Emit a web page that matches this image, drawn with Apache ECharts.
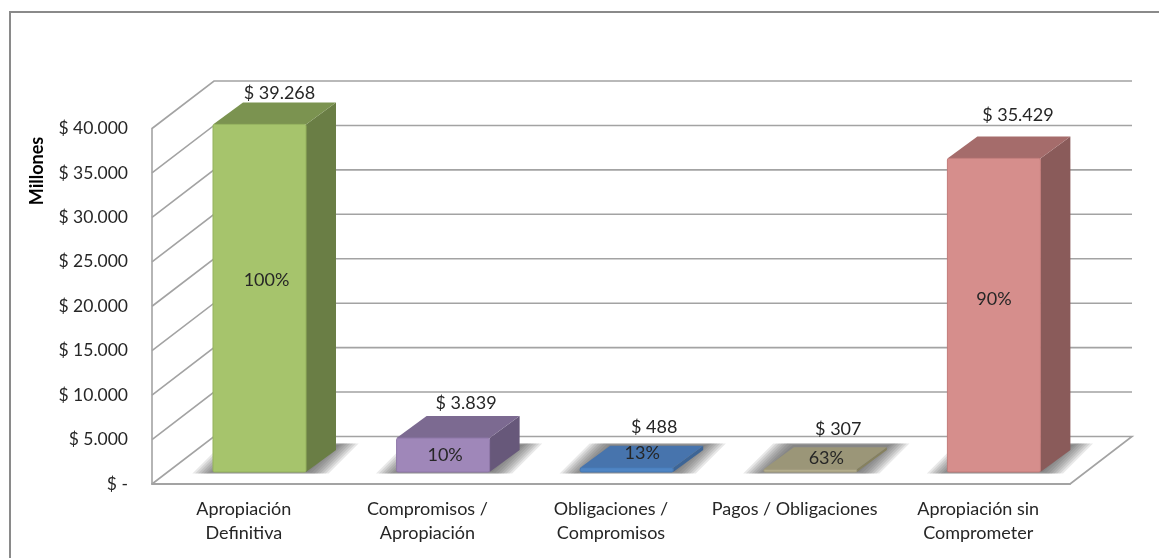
<!DOCTYPE html>
<html>
<head>
<meta charset="utf-8">
<style>html,body{margin:0;padding:0;background:#fff}#c{width:1159px;height:558px}</style>
<script src="https://cdn.jsdelivr.net/npm/echarts@6/dist/echarts.min.js"></script>
</head>
<body>
<div id="c"></div>
<script>
const categories = ['Apropiación\nDefinitiva', 'Compromisos /\nApropiación', 'Obligaciones /\nCompromisos', 'Pagos / Obligaciones', 'Apropiación sin\nComprometer'];
const values = [39268, 3839, 488, 307, 35429];
const percents = ['100%', '10%', '13%', '63%', '90%'];
const yTicks = [0, 5000, 10000, 15000, 20000, 25000, 30000, 35000, 40000];

const frontColors = ['#a6c46c', '#9f87b9', '#4f85c4', '#b3ad8c', '#d68e8c'];
const edgeColors  = ['#94b25c', '#8e77a8', '#4477b3', '#a19b7c', '#c27b79'];
const topColors   = ['#7b9350', '#7c6a91', '#4774ad', '#9b9678', '#a56c6b'];
const sideColors  = ['#6a7e45', '#67587a', '#3d6596', '#86815f', '#8a5b5a'];

// hand-placed label nudges, as in the source chart
const valueLabelNudge = [[20, -9.5], [23, -13], [27.5, -18], [28, -18], [24, -21]];
const pctLabelNudge = [[7, -18], [2, 0], [15.5, -17], [16, -12.5], [0, -16]];

const WALL = [62, -47.5], BAR = [30, -22], BAR_SHIFT = [15.7, -12], BAR_WIDTH = 93, BAR_SCALE = 0.996;
const FONT = 'Lato', TXT = '#262626', LINE = '#a3a3a3';

function fmt(v) {
  return v === 0 ? '$ -' : '$ ' + String(v).replace(/\B(?=(\d{3})+$)/g, '.');
}

function renderWall(params, api) {
  const v = api.value(0);
  const band = api.size([1, 0])[0];
  const y = api.coord([0, v])[1];
  const xl = api.coord([0, v])[0] - band / 2;
  const xr = api.coord([4, v])[0] + band / 2;
  const st = { stroke: LINE, lineWidth: 1.6, fill: null };
  const pts = [[xl, y], [xl + WALL[0], y + WALL[1]], [xr + WALL[0], y + WALL[1]]];
  if (v === 0) pts.push([xr, y]);
  return { type: 'polyline', shape: { points: pts }, style: st };
}

function renderShadow(params, api) {
  const i = api.value(0);
  const c = api.coord([i, 0]);
  const x0 = c[0] + BAR_SHIFT[0] - BAR_WIDTH / 2, y0 = c[1] + BAR_SHIFT[1], x1 = x0 + BAR_WIDTH;
  const layers = [];
  for (let k = 0; k < 8; k++) {
    const e = k * 2.8, v = Math.min(k, 2) * 0.7;
    layers.push({
      type: 'polygon',
      shape: { points: [[x0 - 1 - e, y0 + v], [x0 + 29 - e, y0 - 27 - v], [x1 + 33 + e, y0 - 27 - v], [x1 + 3 + e, y0 + v]] },
      style: { fill: 'rgba(75,75,75,0.13)' }
    });
  }
  return { type: 'group', children: layers };
}

function renderBar(params, api) {
  const i = api.value(0);
  const base = api.coord([i, 0]);
  const top = api.coord([i, api.value(1)]);
  const cx = base[0] + BAR_SHIFT[0];
  const x0 = cx - BAR_WIDTH / 2, x1 = cx + BAR_WIDTH / 2;
  const yb = base[1] + BAR_SHIFT[1], yt = yb - (base[1] - top[1]) * BAR_SCALE;
  const dx = BAR[0], dy = BAR[1];
  const textStyle = (text, x, y) => ({
    type: 'text',
    style: { text, x, y, fill: TXT, font: '18px ' + FONT, align: 'center', verticalAlign: 'middle' }
  });
  return {
    type: 'group',
    children: [
      { type: 'polygon', shape: { points: [[x1, yb], [x1, yt], [x1 + dx, yt + dy], [x1 + dx, yb + dy]] }, style: { fill: sideColors[i] } },
      { type: 'polygon', shape: { points: [[x0, yt], [x0 + dx, yt + dy], [x1 + dx, yt + dy], [x1, yt]] }, style: { fill: topColors[i] } },
      { type: 'rect', shape: { x: x0, y: yt, width: BAR_WIDTH, height: yb - yt, r: 1.5 }, style: { fill: frontColors[i], stroke: edgeColors[i], lineWidth: 1 } },
      textStyle(percents[i], cx + pctLabelNudge[i][0], (yb + yt) / 2 + pctLabelNudge[i][1]),
      textStyle(fmt(values[i]), cx + valueLabelNudge[i][0], yt + dy + valueLabelNudge[i][1])
    ]
  };
}

const barData = values.map((v, i) => [i, v]);

const chart = echarts.init(document.getElementById('c'), null, { renderer: 'canvas' });
chart.setOption({
  animation: false,
  backgroundColor: '#fff',
  grid: { left: 152, right: 89, top: 128.5, bottom: 74 },
  xAxis: {
    type: 'category',
    data: categories,
    axisTick: { show: false },
    axisLine: { show: true, lineStyle: { color: '#a3a3a3', width: 2 } },
    axisLabel: { color: TXT, fontFamily: FONT, fontSize: 18, lineHeight: 24, margin: 13, interval: 0 }
  },
  yAxis: {
    type: 'value',
    min: 0,
    max: 40000,
    interval: 5000,
    axisTick: { show: false },
    axisLine: { show: true, lineStyle: { color: '#a3a3a3', width: 1.6 } },
    splitLine: { show: false },
    axisLabel: { color: TXT, fontFamily: FONT, fontSize: 17.5, margin: 24, padding: [4, 0, 0, 0], formatter: fmt }
  },
  graphic: [
    { type: 'rect', silent: true, z: 0, shape: { x: 10, y: 12, width: 1300, height: 700 }, style: { fill: 'none', stroke: '#8a8a8a', lineWidth: 2 } },
    { type: 'text', silent: true, x: 37, y: 171, rotation: Math.PI / 2, style: { text: 'Millones', font: 'bold 18px ' + FONT, fill: '#000', align: 'center', verticalAlign: 'middle' } }
  ],
  series: [
    { type: 'custom', name: 'wall', z: 1, silent: true, coordinateSystem: 'cartesian2d', data: yTicks.map(v => [v]), renderItem: renderWall, encode: { y: 0 } },
    { type: 'custom', name: 'shadow', z: 2, silent: true, coordinateSystem: 'cartesian2d', data: barData, renderItem: renderShadow, encode: { x: 0, y: 1 } },
    { type: 'custom', name: 'bars', z: 3, silent: true, coordinateSystem: 'cartesian2d', data: barData, renderItem: renderBar, encode: { x: 0, y: 1 } }
  ]
});
</script>
</body>
</html>
